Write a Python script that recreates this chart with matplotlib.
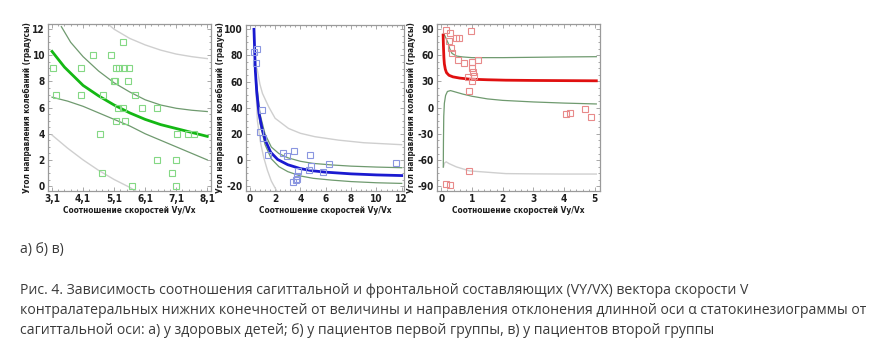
import matplotlib
matplotlib.use("Agg")
import matplotlib.pyplot as plt
from matplotlib import font_manager
from matplotlib.ticker import FixedLocator, AutoMinorLocator, FixedFormatter

# ---------------- data ----------------
# Panel a (healthy children)
a_x = [3.13, 3.24, 4.02, 4.02, 4.43, 4.64, 4.72, 4.75, 5.0, 5.08, 5.13, 5.15, 5.25,
       5.37, 5.41, 5.57, 5.55, 5.16, 5.24, 5.37, 5.45, 5.66, 5.77, 6.0, 6.49, 6.49,
       6.96, 7.1, 7.08, 7.12, 7.49, 7.68]
a_y = [9, 7, 9, 7, 10, 4, 1, 7, 10, 8, 8, 9, 9, 11, 9, 9, 8, 5, 6, 6, 5, 0, 7, 6, 6, 2,
       1, 2, 0, 4, 4, 4]
a_fit_x = [3.1, 3.5, 4.1, 4.6, 5.1, 5.6, 6.1, 6.6, 7.1, 7.6, 8.1]
a_fit_y = [10.3, 9.1, 7.7, 6.9, 6.2, 5.6, 5.1, 4.7, 4.4, 4.1, 3.8]
a_ci_up_x = [3.4, 3.7, 4.1, 4.6, 5.1, 5.6, 6.1, 6.6, 7.1, 7.6, 8.1]
a_ci_up_y = [12.2, 11.0, 9.9, 8.8, 7.9, 7.2, 6.6, 6.2, 5.95, 5.8, 5.7]
a_ci_lo_x = [3.1, 3.6, 4.1, 4.6, 5.1, 5.6, 6.1, 6.6, 7.1, 7.6, 8.1]
a_ci_lo_y = [6.8, 6.5, 6.1, 5.6, 5.1, 4.6, 4.0, 3.5, 3.0, 2.5, 2.0]
a_pi_up_x = [4.9, 5.1, 5.6, 6.1, 6.6, 7.1, 7.6, 8.1]
a_pi_up_y = [12.4, 12.0, 11.3, 10.8, 10.4, 10.1, 9.9, 9.75]
a_pi_lo_x = [3.1, 3.6, 4.1, 4.6, 5.1, 5.6, 5.8]
a_pi_lo_y = [3.9, 2.9, 2.0, 1.2, 0.5, -0.1, -0.4]
a_xticks = [3.1, 4.1, 5.1, 6.1, 7.1, 8.1]
a_xticklabels = ["3,1", "4,1", "5,1", "6,1", "7,1", "8,1"]
a_yticks = [0, 2, 4, 6, 8, 10, 12]

# Panel b (first group)
b_x = [0.34, 0.6, 0.47, 0.99, 0.78, 1.05, 1.44, 2.61, 2.95, 3.48, 4.78, 4.84, 4.71,
       3.79, 3.74, 5.75, 6.22, 11.58, 3.42, 3.61, 3.74]
b_y = [82.4, 84.7, 74, 38.3, 21.7, 16.6, 3.8, 5.1, 3.1, 7.1, 3.8, -4.3, -7.7,
       -8.2, -12, -9.4, -2.8, -2.0, -16.6, -15.3, -14.8]
b_fit_x = [0.33, 0.44, 0.55, 0.72, 0.97, 1.23, 1.65, 2.2, 3, 4, 5, 6, 8, 10, 12]
b_fit_y = [100, 68, 52, 36, 24, 15, 6, 0.5, -3.5, -6.5, -8.2, -9.2, -10.5, -11.3, -11.8]
b_ci_x = [0.5, 0.8, 1.2, 1.7, 2.3, 3.0, 4.0, 5.0, 6.5, 8, 10, 12]
b_ci_up_y = [62, 35.5, 20, 10, 5, 1.8, -0.9, -2.5, -3.7, -4.6, -5.3, -5.8]
b_ci_lo_y = [56, 28.5, 12, 1, -5, -8.8, -12.1, -13.9, -15.3, -16.4, -17.3, -17.8]
b_pi_up_x = [0.575, 0.8, 1.0, 1.49, 2.0, 3.06, 4.0, 5.15, 7.0, 9.0, 12.0]
b_pi_up_y = [70, 58, 51, 40.8, 32, 24.2, 20.5, 17.9, 15.3, 13.3, 11.8]
b_pi_lo_x = [0.45, 0.6, 0.86, 1.1, 1.39, 1.7, 2.04, 2.15]
b_pi_lo_y = [62, 30, 12.8, 2, -7.7, -16, -22, -24]
b_xticks = [0, 2, 4, 6, 8, 10, 12]
b_yticks = [-20, 0, 20, 40, 60, 80, 100]

# Panel c (second group)
c_x = [0.14, 0.27, 0.49, 0.57, 0.98, 0.25, 0.33, 0.35, 0.54, 0.73, 1.0, 1.21, 1.0,
       1.03, 0.88, 1.07, 1.0, 0.89, 4.07, 4.18, 4.69, 4.88, 0.89, 0.15, 0.27]
c_y = [88.9, 85, 80, 79.3, 88.1, 76, 68.6, 62, 54.4, 50.6, 51.7, 54.4, 45.6,
       41, 35.2, 36, 30.3, 18.8, -7.3, -5.7, -1.9, -11.1, -72.8, -87.7, -88.5]
c_fit_x = [0.06, 0.07, 0.085, 0.1, 0.13, 0.17, 0.25, 0.38, 0.6, 0.92, 1.5, 2.1, 3, 4, 5.05]
c_fit_y = [83, 70, 57, 50, 44, 40, 37, 35.2, 33.8, 32.6, 31.9, 31.4, 31.1, 30.9, 30.7]
c_ci_up_x = [0.07, 0.12, 0.17, 0.22, 0.28, 0.35, 0.5, 0.7, 1, 2, 3, 4, 5.05]
c_ci_up_y = [85, 82, 78, 74, 67, 62, 59, 58, 57.2, 57.2, 57.6, 58, 58.3]
c_ci_lo_x = [0.065, 0.07, 0.08, 0.1, 0.14, 0.2, 0.3, 0.45, 0.7, 1.0, 1.5, 2, 3, 4, 5.05]
c_ci_lo_y = [-68, -40, -10, 5, 14, 18.5, 19.5, 18, 15.5, 13, 10, 8.3, 6.5, 5.2, 4.2]
c_pi_lo_x = [0.07, 0.1, 0.16, 0.25, 0.49, 0.92, 2.1, 3, 4, 5.05]
c_pi_lo_y = [-68, -63.5, -62, -64, -67.8, -72.4, -75.5, -75.8, -76, -76]
c_xticks = [0, 1, 2, 3, 4, 5]
c_yticks = [-90, -60, -30, 0, 30, 60, 90]

x_label = "Соотношение скоростей Vy/Vx"
y_label = "Угол направления колебаний (градусы)"
sub_labels = "а) б) в)"
caption_lines = [
    "Рис. 4. Зависимость соотношения сагиттальной и фронтальной составляющих (VY/VX) вектора скорости V",
    "контралатеральных нижних конечностей от величины и направления отклонения длинной оси α статокинезиограммы от",
    "сагиттальной оси: а) у здоровых детей; б) у пациентов первой группы, в) у пациентов второй группы",
]

# ---------------- style ----------------
narrow_path = None
for f in font_manager.fontManager.ttflist:
    fn = f.fname.lower()
    if ("narrow" in fn or "condensed" in fn) and "bold" in fn and "italic" not in fn \
            and "oblique" not in fn and ("liberation" in fn or "dejavusans" in fn):
        if narrow_path is None or "liberation" in fn:
            narrow_path = f.fname
if narrow_path:
    ax_fp = font_manager.FontProperties(fname=narrow_path)
else:
    ax_fp = font_manager.FontProperties(family="Liberation Sans", weight="bold")

names = {f.name for f in font_manager.fontManager.ttflist}
capfont = "Open Sans" if "Open Sans" in names else "DejaVu Sans"

W, H = 896, 353
fig = plt.figure(figsize=(W / 100, H / 100), dpi=100)
fig.patch.set_facecolor("white")
renderer = fig.canvas.get_renderer()


def px_axes(l, t, r, b):
    return fig.add_axes([l / W, 1 - b / H, (r - l) / W, (b - t) / H])


def fit_size(txt, target_px, horizontal=True):
    ext = txt.get_window_extent(renderer)
    cur = ext.width if horizontal else ext.height
    if cur > 0:
        txt.set_fontsize(txt.get_fontsize() * target_px / cur)


frame_col = "#9a9a9a"
ci_col = "#6f9a6f"
pi_col = "#cfcfcf"
txt_col = "#1e1e1e"


def style(ax, xlim, ylim, xt, xtl, yt, ytl, ylab_right_px, ax_left_px, ax_w_px):
    ax.set_xlim(*xlim)
    ax.set_ylim(*ylim)
    ax.xaxis.set_major_locator(FixedLocator(xt))
    ax.xaxis.set_major_formatter(FixedFormatter(xtl))
    ax.yaxis.set_major_locator(FixedLocator(yt))
    ax.yaxis.set_major_formatter(FixedFormatter(ytl))
    ax.xaxis.set_minor_locator(AutoMinorLocator(5))
    ax.yaxis.set_minor_locator(AutoMinorLocator(4))
    for s in ax.spines.values():
        s.set_color(frame_col)
        s.set_linewidth(0.9)
    ax.tick_params(which="both", direction="in", top=True, right=True, color=frame_col,
                   labelcolor=txt_col, width=0.6)
    ax.tick_params(which="major", length=3, pad=2.2)
    ax.tick_params(which="minor", length=1.6)
    fig.canvas.draw()
    for lab in ax.get_xticklabels() + ax.get_yticklabels():
        lab.set_fontproperties(ax_fp)
        lab.set_fontsize(7.2 if narrow_path else 6.8)
    xl = ax.set_xlabel(x_label, fontproperties=ax_fp, color=txt_col, labelpad=1.5)
    yl = ax.set_ylabel(y_label, fontproperties=ax_fp, color=txt_col)
    xl.set_fontsize(7.5)
    yl.set_fontsize(7.5)
    fit_size(xl, 131, True)
    fit_size(yl, 171, False)
    ax.yaxis.set_label_coords((ylab_right_px - ax_left_px) / ax_w_px, 0.5)


# Panel a
ax = px_axes(48, 24, 211, 191)
ax.plot(a_pi_up_x, a_pi_up_y, color=pi_col, lw=1.0)
ax.plot(a_pi_lo_x, a_pi_lo_y, color=pi_col, lw=1.0)
ax.plot(a_ci_up_x, a_ci_up_y, color=ci_col, lw=0.9)
ax.plot(a_ci_lo_x, a_ci_lo_y, color=ci_col, lw=0.9)
ax.plot(a_fit_x, a_fit_y, color="#14b814", lw=2.0)
ax.plot(a_x, a_y, linestyle="none", marker="s", ms=5, mfc="none", mec="#84d884", mew=0.8)
style(ax, (2.97, 8.22), (-0.38, 12.4), a_xticks, a_xticklabels,
      a_yticks, [str(v) for v in a_yticks], 32, 48, 163)

# Panel b
ax = px_axes(246, 25, 404, 191)
ax.plot(b_pi_up_x, b_pi_up_y, color=pi_col, lw=1.0)
ax.plot(b_pi_lo_x, b_pi_lo_y, color=pi_col, lw=1.0)
ax.plot(b_ci_x, b_ci_up_y, color=ci_col, lw=0.9)
ax.plot(b_ci_x, b_ci_lo_y, color=ci_col, lw=0.9)
ax.plot(b_fit_x, b_fit_y, color="#1a1ad0", lw=2.0)
ax.plot(b_x, b_y, linestyle="none", marker="s", ms=5, mfc="none", mec="#8a96e0", mew=0.8)
style(ax, (-0.3, 12.18), (-23.6, 103.3), b_xticks, [str(v) for v in b_xticks],
      b_yticks, [str(v) for v in b_yticks], 225, 246, 158)

# Panel c
ax = px_axes(437, 24, 600, 191)
ax.plot(c_pi_lo_x, c_pi_lo_y, color=pi_col, lw=1.0)
ax.plot(c_ci_up_x, c_ci_up_y, color=ci_col, lw=0.9)
ax.plot(c_ci_lo_x, c_ci_lo_y, color=ci_col, lw=0.9)
ax.plot(c_fit_x, c_fit_y, color="#e01010", lw=2.0)
ax.plot(c_x, c_y, linestyle="none", marker="s", ms=5, mfc="none", mec="#e88a8a", mew=0.8)
style(ax, (-0.14, 5.17), (-95.4, 95.7), c_xticks, [str(v) for v in c_xticks],
      c_yticks, [str(v) for v in c_yticks], 416, 437, 163)

# Caption text
cap_col = "#3a3a3a"
fig.text(20 / W, 1 - 249 / H, sub_labels, fontsize=10, family=capfont, color=cap_col,
         va="center", ha="left")
cap_texts = []
for i, line in enumerate(caption_lines):
    cap_texts.append(fig.text(20 / W, 1 - (291 + 20 * i) / H, line, fontsize=10,
                              family=capfont, color=cap_col, va="center", ha="left"))
fig.canvas.draw()
ext = cap_texts[1].get_window_extent(renderer)
scale = 842 / ext.width
for t in fig.texts:
    t.set_fontsize(t.get_fontsize() * scale)

fig.savefig("out.png", dpi=100, facecolor="white")
